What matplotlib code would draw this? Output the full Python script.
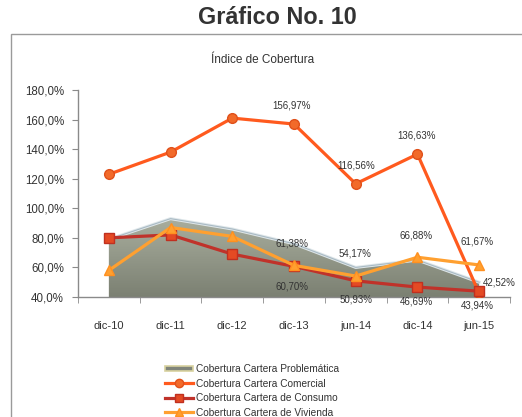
import matplotlib
matplotlib.use('Agg')
import matplotlib.pyplot as plt
import numpy as np
from matplotlib.patches import Rectangle, Patch
from matplotlib.lines import Line2D
from matplotlib.ticker import FixedLocator, FuncFormatter
from matplotlib.colors import LinearSegmentedColormap

plt.rcParams['font.family'] = ['Liberation Sans', 'DejaVu Sans']

# ---------------- data ----------------
categories = ['dic-10', 'dic-11', 'dic-12', 'dic-13', 'jun-14', 'dic-14', 'jun-15']
problematica = [79.0, 93.0, 86.0, 76.0, 60.0, 65.0, 50.0]
comercial = [123.0, 138.0, 161.0, 156.97, 116.56, 136.63, 42.52]
consumo = [80.0, 82.0, 69.0, 60.70, 50.93, 46.69, 43.94]
vivienda = [58.0, 87.0, 81.0, 61.38, 54.17, 66.88, 61.67]
y_ticks = [40, 60, 80, 100, 120, 140, 160, 180]
legend_labels = ['Cobertura Cartera Problemática', 'Cobertura Cartera Comercial',
                 'Cobertura Cartera de Consumo', 'Cobertura Cartera de Vivienda']
title = 'Gráfico No. 10'
subtitle = 'Índice de Cobertura'

# which points get labels, with pixel offsets (dx, dy up)
com_lbl = {3: (-2, 19), 4: (0, 18), 5: (-1, 19), 6: (20, 11)}
viv_lbl = {3: (-2, 22), 4: (-1, 23), 5: (-1, 22), 6: (-2, 23)}
con_lbl = {3: (-2, -20), 4: (0, -19), 5: (-1, -14), 6: (-2, -14)}

W, H = 522, 417
fig = plt.figure(figsize=(W / 100, H / 100), dpi=100)
fig.patch.set_facecolor('white')

# outer frame
fig.patches.append(Rectangle((11 / W, -0.05), 1.2, 1 - 34 / H + 0.05, transform=fig.transFigure,
                             fill=False, edgecolor='#9a9a9a', lw=1.0))

fig.text(277 / W, 1 - 18 / H, title, ha='center', va='center', fontsize=16.8,
         fontweight='bold', color='#333333')
fig.text(263 / W, 1 - 60 / H, subtitle, ha='center', va='center', fontsize=8.5, color='#333333')

ax = fig.add_axes([78 / W, 1 - 297 / H, (510 - 78) / W, (297 - 90) / H])
x = np.arange(len(categories))
ax.set_xlim(-0.5, len(categories) - 0.5)
ax.set_ylim(40, 180)

# area with gradient
poly = ax.fill_between(x, 40, problematica, facecolor='none', edgecolor='none', zorder=1)
cmap = LinearSegmentedColormap.from_list('g', ['#a9ae9e', '#7b8072'])
grad = np.linspace(0, 1, 256).reshape(-1, 1)
im = ax.imshow(grad, cmap=cmap, aspect='auto', extent=(-0.5, 6.5, 40, max(problematica)),
               origin='upper', zorder=1)
im.set_clip_path(poly.get_paths()[0], transform=ax.transData)
ax.plot(x, problematica, color='#dfe7ea', lw=2.2, zorder=1.5)
ax.plot(x, problematica, color='#a9bac4', lw=0.8, zorder=1.6)

ax.plot(x, comercial, color='#ff5a1e', lw=2.3, marker='o', ms=7,
        mfc='#f26a2a', mec='#e0501a', zorder=3)
ax.plot(x, consumo, color='#c0322a', lw=2.3, marker='s', ms=7,
        mfc='#e44a24', mec='#c03020', zorder=4)
ax.plot(x, vivienda, color='#ffa030', lw=2.3, marker='^', ms=7,
        mfc='#ffa030', mec='#ff9020', zorder=5)

def lab(series, spec):
    for i, (dx, dy) in spec.items():
        ax.annotate(f'{series[i]:.2f}%'.replace('.', ','), (x[i], series[i]),
                    xytext=(dx * 0.72, dy * 0.72), textcoords='offset points',
                    ha='center', va='center', fontsize=7, color='#333333', zorder=6,
                    annotation_clip=False)

lab(comercial, com_lbl)
lab(vivienda, viv_lbl)
lab(consumo, con_lbl)

for s in ['top', 'right']:
    ax.spines[s].set_visible(False)
for s in ['left', 'bottom']:
    ax.spines[s].set_color('#8a8a8a')
    ax.spines[s].set_linewidth(1.0)
ax.set_yticks(y_ticks)
ax.yaxis.set_major_formatter(FuncFormatter(lambda v, p: f'{v:.1f}%'.replace('.', ',')))
ax.set_xticks(x)
ax.set_xticklabels(categories)
ax.xaxis.set_minor_locator(FixedLocator(np.arange(-0.5, len(categories), 1.0)))
ax.tick_params(axis='x', which='major', length=0, pad=17, labelsize=8, colors='#333333')
ax.tick_params(axis='x', which='minor', length=4, color='#8a8a8a', direction='out')
ax.tick_params(axis='y', length=4, color='#8a8a8a', labelsize=8.3, labelcolor='#333333', pad=6)
ax.set_facecolor('white')

handles = [
    Patch(facecolor='#80857a', edgecolor='#d8d2a0', lw=1.2),
    Line2D([], [], color='#ff5a1e', lw=2.3, marker='o', ms=6, mfc='#f26a2a', mec='#e0501a'),
    Line2D([], [], color='#c0322a', lw=2.3, marker='s', ms=6, mfc='#e44a24', mec='#c03020'),
    Line2D([], [], color='#ffa030', lw=2.3, marker='^', ms=6, mfc='#ffa030', mec='#ff9020'),
]
fig.legend(handles, legend_labels, loc='upper left', bbox_to_anchor=(165 / W, 1 - 364 / H),
           frameon=False, fontsize=7.3, handlelength=2.8, handleheight=0.5, handletextpad=0.25,
           labelspacing=0.45, borderpad=0, borderaxespad=0, labelcolor='#333333')

fig.savefig('out.png', dpi=100)
